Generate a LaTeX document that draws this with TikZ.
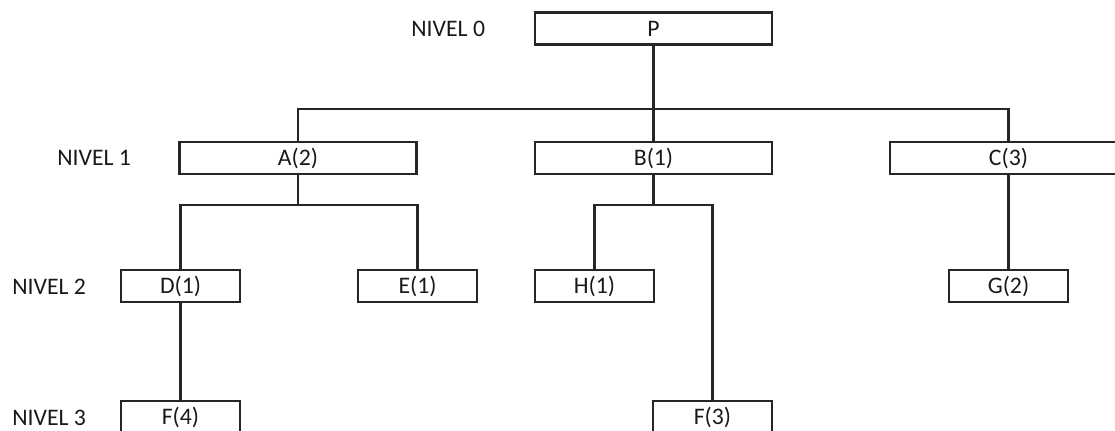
\documentclass[tikz,border=0pt]{standalone}
\usepackage{fontspec}
\setmainfont{Carlito}
\begin{document}
\begin{tikzpicture}[x=0.02cm,y=-0.02cm,
    caja/.style={draw=black!85,line width=1.25pt,minimum width=4.74cm,minimum height=0.64cm,
      inner sep=0pt,text=black!90,font=\fontsize{13.5}{16}\selectfont},
    cajita/.style={caja,minimum width=2.38cm},
    nivel/.style={anchor=west,inner sep=0pt,text=black!90,font=\fontsize{13.5}{16}\selectfont},
    linea/.style={draw=black!85,line width=1.25pt}]
    \useasboundingbox (0,0) rectangle (1115,430);

    % niveles
    \node[nivel] (nivel0) at (411,29) {NIVEL 0};
    \node[nivel] (nivel1) at (57,158) {NIVEL 1};
    \node[nivel] (nivel2) at (12,287) {NIVEL 2};
    \node[nivel] (nivel3) at (12,418) {NIVEL 3};

    % arbol
    \node[caja] (P) at (653.5,28.5) {P};
    \node[caja] (A) at (298,158) {A(2)};
    \node[caja] (B) at (653.5,158) {B(1)};
    \node[caja] (C) at (1008.5,158) {C(3)};
    \node[cajita] (D) at (180.5,286) {D(1)};
    \node[cajita] (E) at (417.5,286) {E(1)};
    \node[cajita] (H) at (594.5,286) {H(1)};
    \node[cajita] (G) at (1008.5,286) {G(2)};
    \node[cajita] (F4) at (180.5,417) {F(4)};
    \node[cajita] (F3) at (712.5,417) {F(3)};

    % lineas
    \coordinate (barra0) at (653.5,109);
    \coordinate (barraA) at (298,205);
    \coordinate (barraB) at (653.5,205);
    \draw[linea] (P.south) -- (B.north);
    \draw[linea] (A.north) -- (A.north |- barra0) -- (C.north |- barra0) -- (C.north);
    \draw[linea] (A.south) -- (barraA);
    \draw[linea] (D.north) -- (D.north |- barraA) -- (E.north |- barraA) -- (E.north);
    \draw[linea] (B.south) -- (barraB);
    \draw[linea] (H.north) -- (H.north |- barraB) -- (F3.north |- barraB) -- (F3.north);
    \draw[linea] (C.south) -- (G.north);
    \draw[linea] (D.south) -- (F4.north);
\end{tikzpicture}
\end{document}
